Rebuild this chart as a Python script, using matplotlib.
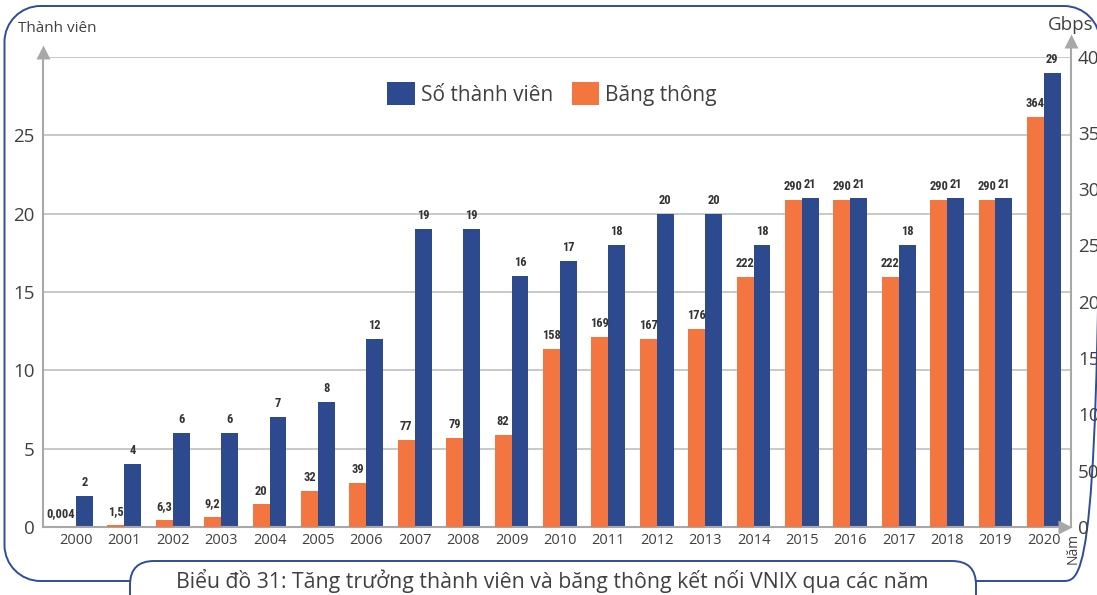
import matplotlib
matplotlib.use("Agg")
import matplotlib.pyplot as plt
from matplotlib import font_manager
from matplotlib.patches import FancyBboxPatch, Patch, PathPatch
from matplotlib.path import Path
from matplotlib.transforms import IdentityTransform
import numpy as np

years = [str(y) for y in range(2000, 2021)]
members = [2, 4, 6, 6, 7, 8, 12, 19, 19, 16, 17, 18, 20, 20, 18, 21, 21, 18, 21, 21, 29]
bandwidth = [0.004, 1.5, 6.3, 9.2, 20, 32, 39, 77, 79, 82, 158, 169, 167, 176,
             222, 290, 290, 222, 290, 290, 364]
bandwidth_labels = ["0,004", "1,5", "6,3", "9,2", "20", "32", "39", "77", "79", "82",
                    "158", "169", "167", "176", "222", "290", "290", "222", "290", "290", "364"]
left_ticks = [0, 5, 10, 15, 20, 25]
right_ticks = [0, 50, 100, 150, 200, 250, 300, 350]

BLUE = "#2E4A8F"
ORANGE = "#F37540"
FRAME = "#2F4C9C"
AXGREY = "#A8A8A8"
GRID = "#C8C8C8"
TXT = "#404040"

plt.rcParams['font.family'] = ['Open Sans', 'DejaVu Sans']

# pick a condensed bold face for bar labels if one is installed
installed = {f.name for f in font_manager.fontManager.ttflist}
if 'Roboto Condensed' in installed:
    lab_family, lab_size = 'Roboto Condensed', 9
elif 'Liberation Sans Narrow' in installed:
    lab_family, lab_size = 'Liberation Sans Narrow', 9
else:
    lab_family, lab_size = 'Roboto', 8

W, H = 1097, 595
fig = plt.figure(figsize=(W / 100, H / 100), dpi=100)
ax_l, ax_r, ax_t, ax_b = 43, 1071, 57, 527
ax = fig.add_axes([ax_l / W, (H - ax_b) / H, (ax_r - ax_l) / W, (ax_b - ax_t) / H])
ax2 = ax.twinx()

x = np.arange(len(years))
w = 0.35
ax.bar(x + w / 2, members, width=w, color=BLUE, zorder=3)
ax2.bar(x - w / 2, bandwidth, width=w, color=ORANGE, zorder=3)

ax.set_xlim(-0.68, len(years) - 1 + 0.56)
ax.set_ylim(0, 30)
ax2.set_ylim(0, 417)

# value labels
lab_font = dict(family=[lab_family, 'DejaVu Sans'],
                fontweight='bold', fontsize=lab_size, color="#333333")
for xi, v in zip(x, members):
    ax.annotate(str(v), (xi + w / 2, v), xytext=(0, 5), textcoords='offset points',
                ha='center', va='bottom', **lab_font)
for xi, v, t in zip(x, bandwidth, bandwidth_labels):
    if len(t) > 3:
        # wide label: keep it clear of the neighbouring blue bar
        ax2.annotate(t, (xi, v), xytext=(-1, 5), textcoords='offset points',
                     ha='right', va='bottom', **lab_font)
    else:
        ax2.annotate(t, (xi - w / 2, v), xytext=(0, 5), textcoords='offset points',
                     ha='center', va='bottom', **lab_font)

# grid
ax.set_yticks(left_ticks)
ax.set_yticklabels([str(t) for t in left_ticks])
for gy in left_ticks[1:] + [30]:
    ax.axhline(gy, color=GRID, lw=1.4, zorder=1)

ax2.set_yticks(right_ticks + [ax2.get_ylim()[1]])
ax2.set_yticklabels([str(t) for t in right_ticks] + ["400"])

ax.set_xticks(x)
ax.set_xticklabels(years)

for a in (ax, ax2):
    for s in a.spines.values():
        s.set_visible(False)
ax.tick_params(axis='y', length=0, pad=6, labelsize=13.5, labelcolor=TXT)
ax.tick_params(axis='x', length=0, pad=4, labelsize=10.5, labelcolor=TXT)
ax2.tick_params(axis='y', length=0, pad=5, labelsize=13.5, labelcolor=TXT)

# axis lines and arrows
ax_h = ax_b - ax_t
ax_w = ax_r - ax_l
ax.plot([0, 0], [0, 1], transform=ax.transAxes, color=AXGREY, lw=1.5, clip_on=False, zorder=5)
ax.plot([0], [1 + 5 / ax_h], transform=ax.transAxes, marker='^', ms=10, color=AXGREY,
        clip_on=False, zorder=5, mec='none')
ax.plot([1, 1], [0, (ax_b - 47) / ax_h], transform=ax.transAxes, color=AXGREY, lw=1.5,
        clip_on=False, zorder=5)
ax.plot([1], [(ax_b - 41) / ax_h], transform=ax.transAxes, marker='^', ms=10, color=AXGREY,
        clip_on=False, zorder=5, mec='none')
ax.plot([0, (1060 - ax_l) / ax_w], [0, 0], transform=ax.transAxes, color=AXGREY, lw=1.5,
        clip_on=False, zorder=5)
ax.plot([(1065 - ax_l) / ax_w], [0], transform=ax.transAxes, marker='>', ms=10, color=AXGREY,
        clip_on=False, zorder=6, mec='none')

# legend
handles = [Patch(facecolor=BLUE, edgecolor='none'), Patch(facecolor=ORANGE, edgecolor='none')]
leg = ax.legend(handles, ["Số thành viên", "Băng thông"], loc='center',
                bbox_to_anchor=((552 - ax_l) / ax_w, (ax_b - 94) / ax_h), ncol=2,
                frameon=False, fontsize=15, handlelength=1.3, handleheight=1.3,
                handletextpad=0.3, columnspacing=0.9, labelcolor=TXT)
leg.set_zorder(10)

# axis titles
fig.text(18 / W, 1 - 28 / H, "Thành viên", fontsize=11, color=TXT, ha='left', va='center')
fig.text(1048 / W, 1 - 25 / H, "Gbps", fontsize=13.5, color=TXT, ha='left', va='center')
fig.text(1073 / W, 1 - 548 / H, "Năm", fontsize=10, color=TXT, ha='center', va='center',
         rotation=90)

# frame: explicit path in pixel coords (image y measured from top)
def P(px, py):
    return (px, H - py)

L, T, R, B, r = 4.5, 6, 1100, 581, 36
k = 0.5523 * r
verts = [
    P(130, B), P(L + r, B),
    P(L + r - k, B), P(L, B - r + k), P(L, B - r),
    P(L, T + r),
    P(L, T + r - k), P(L + r - k, T), P(L + r, T),
    P(R - r, T),
    P(R - r + k, T), P(R, T + r - k), P(R, T + r),
    P(R, B - r),
    P(R, B - r + k), P(R - r + k, B), P(R - r, B),
    P(976, B),
]
codes = [Path.MOVETO, Path.LINETO,
         Path.CURVE4, Path.CURVE4, Path.CURVE4,
         Path.LINETO,
         Path.CURVE4, Path.CURVE4, Path.CURVE4,
         Path.LINETO,
         Path.CURVE4, Path.CURVE4, Path.CURVE4,
         Path.LINETO,
         Path.CURVE4, Path.CURVE4, Path.CURVE4,
         Path.LINETO]
frame = PathPatch(Path(verts, codes), transform=IdentityTransform(), facecolor='none',
                  edgecolor=FRAME, lw=1.4, zorder=0)
fig.add_artist(frame)
cap = FancyBboxPatch((130, -30), 846, H - 561 + 30, boxstyle="round,pad=0,rounding_size=24",
                     transform=IdentityTransform(), facecolor='white', edgecolor=FRAME,
                     lw=1.4, zorder=1)
fig.add_artist(cap)
fig.text(552 / W, 1 - 581 / H,
         "Biểu đồ 31: Tăng trưởng thành viên và băng thông kết nối VNIX qua các năm",
         fontsize=15.3, color=TXT, ha='center', va='center', zorder=2)

fig.savefig("out.png", dpi=100)
